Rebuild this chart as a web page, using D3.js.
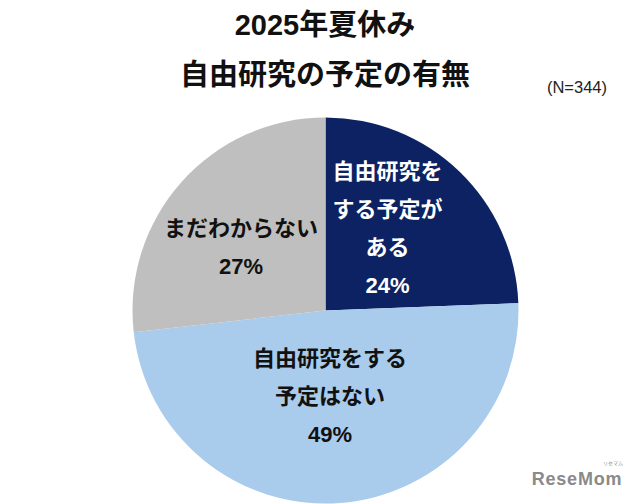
<!DOCTYPE html>
<html><head><meta charset="utf-8">
<script src="https://cdn.jsdelivr.net/npm/d3@7"></script>
<style>
html,body{margin:0;padding:0;background:#fff;}
svg{display:block;}
text{font-family:"Liberation Sans","Noto Sans CJK JP",sans-serif;}
</style></head>
<body>
<svg id="chart" width="640" height="504"></svg>
<script>
const categories = ["自由研究をする予定がある", "自由研究をする予定はない", "まだわからない"];
const values = [24.4, 48.8, 26.8];
const labelLines = [["自由研究を", "する予定が", "ある"], ["自由研究をする", "予定はない"], ["まだわからない"]];
const colors = ["#0c2262", "#a9cbec", "#bfbfbf"];
const textColors = ["#ffffff", "#111111", "#111111"];
const titleLines = ["2025年夏休み", "自由研究の予定の有無"];
const sampleNote = "(N=344)";

const svg = d3.select("#chart");
const cx = 325.5, cy = 310.5, r = 193;

// titles
svg.append("text").attr("x", 325).attr("y", 35).attr("text-anchor", "middle")
  .attr("font-size", 29).attr("font-weight", "bold").attr("fill", "#111").text(titleLines[0]);
svg.append("text").attr("x", 325).attr("y", 85).attr("text-anchor", "middle")
  .attr("font-size", 29).attr("font-weight", "bold").attr("fill", "#111").text(titleLines[1]);
svg.append("text").attr("x", 577).attr("y", 93).attr("text-anchor", "middle")
  .attr("font-size", 16.5).attr("fill", "#222").text(sampleNote);

const data = categories.map((c, i) => ({ cat: c, value: values[i], i }));
const pie = d3.pie().sort(null).value(d => d.value).startAngle(0).endAngle(2 * Math.PI);
const arc = d3.arc().innerRadius(0).outerRadius(r);
const arcs = pie(data);

const g = svg.append("g").attr("transform", `translate(${cx},${cy})`);
g.selectAll("path").data(arcs).join("path")
  .attr("d", arc).attr("fill", d => colors[d.data.i]);

// label anchor positions (first baseline), relative to centre
const labelPos = [[62, -131.5], [4.5, 55], [-84.5, -75]];
const lineH = 38;
arcs.forEach(a => {
  const i = a.data.i;
  const lines = labelLines[i].concat([Math.round(a.data.value) + "%"]);
  const t = g.append("text").attr("text-anchor", "middle")
    .attr("fill", textColors[i]).attr("font-size", 22).attr("font-weight", "bold");
  lines.forEach((ln, k) => {
    t.append("tspan").attr("x", labelPos[i][0]).attr("y", labelPos[i][1] + k * lineH).text(ln);
  });
});

// watermark
svg.append("text").attr("x", 577).attr("y", 485).attr("text-anchor", "middle")
  .attr("font-size", 18).attr("font-weight", "bold").attr("fill", "#8a8a8a")
  .attr("letter-spacing", 0.8).text("ReseMom");
svg.append("text").attr("x", 613).attr("y", 465).attr("text-anchor", "middle")
  .attr("font-size", 5).attr("fill", "#8a8a8a").text("リセマム");
</script>
</body></html>
